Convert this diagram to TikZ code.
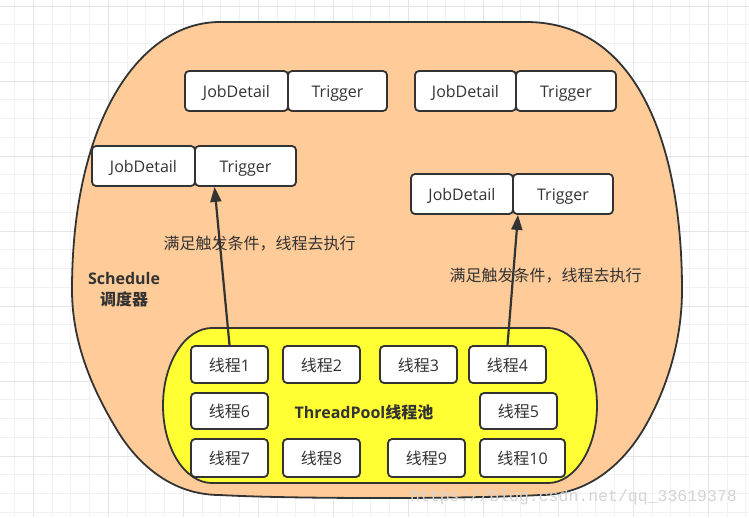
\documentclass[tikz,border=0pt]{standalone}
\usepackage{fontspec}
\setmainfont{Open Sans}
\newfontfamily\cjk{Noto Sans CJK SC}
\newfontfamily\wmfont{Liberation Mono}
\usetikzlibrary{arrows.meta,calc}
\definecolor{ink}{HTML}{333333}
\definecolor{peach}{HTML}{FFCC99}
\definecolor{lemon}{HTML}{FFFF33}
\definecolor{gridminor}{HTML}{F1F1F1}
\definecolor{gridmajor}{HTML}{E4E4E4}
\definecolor{txt}{HTML}{333333}
\definecolor{wm}{HTML}{D4D4D4}
\begin{document}
\begin{tikzpicture}[x=1pt,y=-1pt,
  box/.style={draw=ink,fill=white,line width=1.8pt,rounded corners=4pt,inner sep=0pt,
    minimum height=40pt,text=txt,text height=13.2pt,text depth=0pt,font=\fontsize{16}{19}\selectfont},
  thread/.style={box,minimum width=77pt,minimum height=37pt},
  lbl/.style={text=txt,inner sep=0pt,text height=13.2pt,text depth=0pt,font=\fontsize{16}{19}\selectfont\cjk},
  boldlbl/.style={text=txt,inner sep=0pt,text height=13.2pt,text depth=0pt,font=\fontsize{16}{19}\selectfont\bfseries},
  arrowline/.style={draw=ink,line width=2.2pt,-{Triangle[length=15pt,width=11pt]}},
  shapeline/.style={draw=ink,line width=1.8pt}]
\useasboundingbox (0,0) rectangle (749,517);
\fill[white] (0,0) rectangle (749,517);
% grid
\foreach \i in {0,...,39} {
  \draw[gridminor,line width=1pt] ({14.58+18.75*\i},0) -- ({14.58+18.75*\i},517);
}
\foreach \i in {0,...,27} {
  \draw[gridminor,line width=1pt] (0,{6+18.75*\i}) -- (749,{6+18.75*\i});
}
\foreach \i in {0,...,9} {
  \draw[gridmajor,line width=1pt] ({33.33+75*\i},0) -- ({33.33+75*\i},517);
}
\foreach \i in {0,...,6} {
  \draw[gridmajor,line width=1pt] (0,{6+75*\i}) -- (749,{6+75*\i});
}
% outer schedule shape
\path[shapeline,fill=peach] (220,22) -- (526,22)
  .. controls (640,22) and (682,150) .. (682,290)
  .. controls (682,350) and (661,400) .. (643,430)
  .. controls (628,455) and (595,495) .. (540,495)
  .. controls (470,499) and (290,499) .. (220,495)
  .. controls (165,495) and (132,455) .. (117,430)
  .. controls (99,400) and (72,350) .. (72,290)
  .. controls (72,120) and (140,22) .. (220,22) -- cycle;
% thread pool shape
\path[shapeline,fill=lemon] (212,328) -- (548,328)
  .. controls (575,328) and (597,362.7) .. (597,405.5)
  .. controls (597,448.3) and (575,483) .. (548,483)
  -- (212,483)
  .. controls (185,483) and (163,448.3) .. (163,405.5)
  .. controls (163,362.7) and (185,328) .. (212,328) -- cycle;
% job detail / trigger pairs
\node[box,minimum width=103pt] (jd1) at (236.5,91) {JobDetail};
\node[box,minimum width=99pt] (tr1) at (337.5,91) {Trigger};
\node[box,minimum width=101pt] (jd2) at (465.5,91) {JobDetail};
\node[box,minimum width=100pt] (tr2) at (566,91) {Trigger};
\node[box,minimum width=103pt] (jdL) at (143.5,166) {JobDetail};
\node[box,minimum width=101pt] (trL) at (245.5,166) {Trigger};
\node[box,minimum width=102pt] (jdR) at (462,194) {JobDetail};
\node[box,minimum width=100pt] (trR) at (563,194) {Trigger};
% threads
\node[thread] (t1) at (229.5,364.5) {{\cjk 线程}1};
\node[thread] (t2) at (321.5,364.5) {{\cjk 线程}2};
\node[thread] (t3) at (418.5,364.5) {{\cjk 线程}3};
\node[thread] (t4) at (507.5,364.5) {{\cjk 线程}4};
\node[thread,minimum height=36pt] (t6) at (229.5,411) {{\cjk 线程}6};
\node[thread,minimum height=36pt] (t5) at (518.5,411) {{\cjk 线程}5};
\node[thread,minimum height=38pt] (t7) at (229.5,458) {{\cjk 线程}7};
\node[thread,minimum height=38pt] (t8) at (321.5,458) {{\cjk 线程}8};
\node[thread,minimum height=38pt] (t9) at (426.5,458) {{\cjk 线程}9};
\node[thread,minimum height=38pt,minimum width=85pt] (t10) at (522.5,458) {{\cjk 线程}10};
% labels
\node[boldlbl] (pool) at (364,412) {ThreadPool{\cjk 线程池}};
\node[boldlbl] (sched) at (124,278) {Schedule};
\node[boldlbl] (schedcn) at (124,299) {\cjk 调度器};
\node[lbl] (condL) at (259.5,243) {满足触发条件，线程去执行};
\node[lbl] (condR) at (545.5,275) {满足触发条件，线程去执行};
% arrows
\draw[arrowline] (t1.north) -- ([xshift=-31pt]trL.south);
\draw[arrowline] (t4.north) -- ([xshift=-45pt]trR.south);
% watermark
\node[text=wm,inner sep=0pt,font=\fontsize{16.5}{19}\selectfont\wmfont] (wmark) at (573.5,497) {https://blog.csdn.net/qq\_33619378};
\end{tikzpicture}
\end{document}
